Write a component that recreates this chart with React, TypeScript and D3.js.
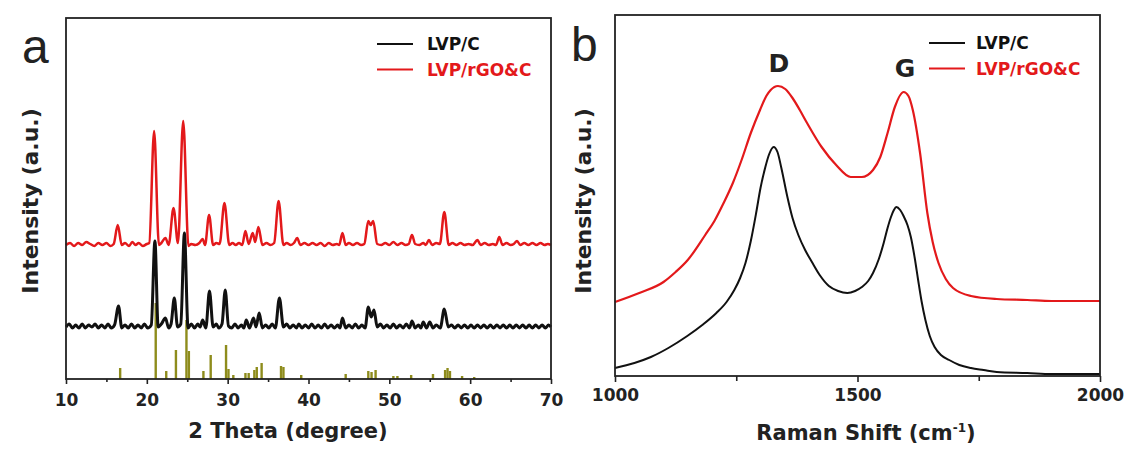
import React, { useEffect, useRef } from 'react';
import * as d3 from 'd3';

// XRD patterns, [2theta, intensity a.u.]
const xrdRed: [number, number][] = [
  [10, 134], [10.5, 136], [11, 133], [11.5, 136], [12, 134], [12.5, 137], [13, 135], [13.5, 133], [14, 136], [14.5, 134], [15, 136], [15.5, 133], [15.9, 135],
  [16.4, 154], [16.9, 134], [17.3, 136], [17.8, 133], [18.2, 137], [18.6, 134], [19, 136], [19.5, 133], [20, 135], [20.3, 136],
  [20.9, 248], [21.5, 134], [21.8, 136], [22.3, 141], [22.7, 134], [23.3, 171], [23.85, 136], [24.5, 258], [25.15, 133], [25.5, 135], [26, 134], [26.5, 136],
  [26.9, 140], [27.2, 134], [27.7, 164], [28.2, 134], [28.6, 136], [29.0, 135], [29.6, 176], [30.2, 134], [30.6, 136], [31, 134], [31.4, 136], [31.8, 134],
  [32.2, 148], [32.6, 135], [33.1, 146], [33.4, 137], [33.8, 152], [34.3, 134], [34.8, 136], [35.3, 134], [35.75, 136], [36.3, 178], [36.9, 134], [37.3, 136],
  [37.8, 134], [38.2, 136], [38.6, 141], [39, 134], [39.5, 136], [40, 134], [40.5, 136], [41, 134], [41.5, 136], [42, 133], [42.5, 136], [43, 134], [43.5, 135],
  [43.8, 134], [44.2, 146], [44.6, 134], [45, 136], [45.5, 134], [46, 136], [46.5, 134], [46.9, 135], [47.4, 158], [47.7, 154], [48.0, 158], [48.5, 135],
  [49, 134], [49.5, 136], [50, 134], [50.5, 137], [51, 134], [51.5, 136], [52, 134], [52.4, 135], [52.8, 144], [53.2, 135], [53.7, 134], [54.2, 136], [54.5, 134],
  [54.9, 139], [55.3, 134], [55.8, 136], [56.25, 135], [56.8, 167], [57.35, 134], [57.8, 136], [58.3, 134], [58.8, 136], [59.3, 134], [59.8, 135], [60.3, 134],
  [60.9, 139], [61.3, 134], [61.8, 136], [62.3, 134], [62.8, 135], [63.2, 134], [63.6, 142], [64.0, 134], [64.5, 136], [65.0, 134], [65.4, 135], [65.8, 138],
  [66.2, 134], [66.7, 136], [67.2, 134], [67.7, 136], [68.2, 134], [68.7, 136], [69.2, 134], [69.6, 135], [70, 134],
];

const xrdBlack: [number, number][] = [
  [10, 52], [10.4, 55], [10.8, 51], [11.2, 54], [11.6, 51], [12, 55], [12.4, 51], [12.8, 54], [13.2, 52], [13.6, 55], [14, 51], [14.4, 54], [14.8, 51],
  [15.2, 55], [15.6, 51], [16.0, 54], [16.5, 73], [16.9, 51], [17.3, 54], [17.7, 51], [18.1, 55], [18.5, 51], [18.9, 54], [19.3, 51], [19.7, 55], [20.1, 51],
  [20.55, 54], [21.0, 138], [21.4, 52], [21.8, 55], [22.3, 61], [22.7, 51], [23.0, 55], [23.4, 81], [23.8, 52], [24.2, 55], [24.65, 146], [25.1, 51], [25.5, 55],
  [25.9, 51], [26.3, 55], [26.6, 52], [26.9, 59], [27.3, 51], [27.75, 88], [28.2, 52], [28.6, 55], [28.9, 51], [29.3, 55], [29.7, 89], [30.1, 53], [30.5, 51],
  [30.9, 55], [31.3, 51], [31.7, 54], [32.0, 51], [32.3, 59], [32.7, 51], [33.2, 61], [33.5, 52], [33.9, 66], [34.3, 51], [34.7, 54], [35.1, 51], [35.5, 55],
  [35.9, 51], [36.4, 81], [36.9, 52], [37.3, 55], [37.7, 51], [38.1, 54], [38.5, 51], [38.8, 55], [39.2, 51], [39.6, 54], [40, 51], [40.4, 55], [40.8, 51],
  [41.2, 54], [41.6, 51], [42, 55], [42.4, 51], [42.8, 54], [43.2, 51], [43.6, 54], [43.9, 51], [44.2, 61], [44.6, 51], [45, 54], [45.4, 51], [45.8, 55],
  [46.2, 51], [46.6, 54], [47.0, 51], [47.4, 72], [47.75, 62], [48.1, 69], [48.5, 52], [48.9, 55], [49.3, 51], [49.7, 54], [50.1, 51], [50.5, 55], [50.9, 51],
  [51.3, 54], [51.7, 51], [52.1, 55], [52.5, 51], [52.8, 58], [53.2, 51], [53.6, 54], [53.9, 51], [54.2, 57], [54.6, 51], [55.0, 57], [55.4, 51], [55.8, 54],
  [56.3, 51], [56.8, 70], [57.3, 52], [57.7, 54], [58.1, 51], [58.5, 54], [58.9, 51], [59.3, 54], [59.7, 51], [60.1, 54], [60.5, 51], [60.9, 54], [61.3, 51],
  [61.7, 54], [62.1, 51], [62.5, 54], [62.9, 51], [63.3, 54], [63.7, 51], [64.1, 54], [64.5, 51], [64.9, 54], [65.3, 51], [65.7, 54], [66.1, 51], [66.5, 54],
  [66.9, 51], [67.3, 54], [67.7, 51], [68.1, 54], [68.5, 51], [68.9, 54], [69.3, 51], [69.7, 54], [70, 52],
];

// standard reference pattern (stick lines)
const refPositions = [16.7, 21.1, 22.4, 23.6, 24.9, 25.2, 27.0, 27.9, 29.8, 30.1, 30.7, 32.2, 32.6, 33.3, 33.6, 34.2, 36.6, 36.9, 39.1, 44.6, 47.4, 47.8, 48.3, 50.5, 51.0, 52.7, 55.4, 56.9, 57.2, 57.5, 59.0, 60.5];
const refHeights = [11, 76, 8, 29, 59, 28, 8, 24, 34, 10, 4, 6, 6, 9, 12, 16, 13, 12, 4, 5, 8, 7, 9, 3, 3, 4, 5, 9, 11, 8, 3, 2];

// Raman spectra, [shift cm-1, intensity a.u.]
const ramanRed: [number, number][] = [
  [1000, 74], [1050, 83], [1100, 94], [1125, 104], [1150, 116], [1186, 141], [1205, 155], [1224, 173], [1243, 193], [1261, 216], [1280, 243], [1299, 266],
  [1312, 280], [1321, 286], [1336, 290], [1351, 287], [1366, 278], [1381, 266], [1396, 253], [1426, 229], [1456, 211], [1486, 199], [1509, 199], [1532, 206],
  [1547, 219], [1562, 243], [1577, 269], [1595, 284], [1605, 280], [1614, 266], [1629, 223], [1644, 163], [1655, 134], [1667, 113], [1682, 97], [1697, 88],
  [1734, 80], [1787, 77], [1850, 76], [1900, 75], [1950, 75], [2000, 75],
];
const ramanBlack: [number, number][] = [
  [1000, 8], [1040, 13], [1074, 19], [1110, 28], [1149, 40], [1180, 51], [1209, 63], [1230, 74], [1246, 86], [1258, 98], [1269, 113], [1280, 135], [1291, 163],
  [1300, 188], [1310, 209], [1318, 222], [1327, 229], [1335, 224], [1343, 208], [1355, 180], [1366, 158], [1378, 141], [1392, 126], [1406, 114], [1422, 101],
  [1441, 90], [1460, 85], [1479, 83], [1495, 85], [1509, 89], [1522, 95], [1532, 103], [1544, 117], [1554, 133], [1562, 148], [1569, 159], [1575, 166],
  [1580, 169], [1588, 166], [1595, 160], [1603, 151], [1610, 139], [1618, 118], [1625, 96], [1632, 75], [1640, 56], [1649, 40], [1659, 29], [1672, 21],
  [1689, 16], [1710, 11], [1734, 8], [1760, 6], [1787, 4], [1850, 3], [1900, 2], [2000, 2],
];

const xrdTicks = [10, 20, 30, 40, 50, 60, 70];
const xrdMinor = [15, 25, 35, 45, 55, 65];
const ramanTicks = [1000, 1500, 2000];
const ramanMinor = [1250, 1750];
const seriesNames = ['LVP/C', 'LVP/rGO&C'];

const RED = '#e3191b';
const BLACK = '#111';
const OLIVE = '#8e8c1c';
const FONT = 'DejaVu Sans, sans-serif';

export default function App() {
  const ref = useRef<SVGSVGElement>(null);

  useEffect(() => {
    const svg = d3.select(ref.current);
    svg.selectAll('*').remove();

    // ---------- panel a : XRD ----------
    const xa = d3.scaleLinear().domain([10, 70]).range([66, 551]);
    const ya = d3.scaleLinear().domain([0, 361]).range([379, 18]);
    const ga = svg.append('g');

    const lineA = d3.line<[number, number]>().x(d => xa(d[0])).y(d => ya(d[1])).curve(d3.curveMonotoneX);

    ga.selectAll('line.ref')
      .data(refPositions)
      .enter()
      .append('line')
      .attr('x1', d => xa(d)).attr('x2', d => xa(d))
      .attr('y1', ya(0))
      .attr('y2', (d, i) => ya(refHeights[i]))
      .attr('stroke', OLIVE)
      .attr('stroke-width', 2.4);

    ga.append('path').attr('d', lineA(xrdBlack)).attr('fill', 'none').attr('stroke', BLACK).attr('stroke-width', 3).attr('stroke-linejoin', 'round');
    ga.append('path').attr('d', lineA(xrdRed)).attr('fill', 'none').attr('stroke', RED).attr('stroke-width', 2.5).attr('stroke-linejoin', 'round');

    ga.append('rect').attr('x', 66).attr('y', 18).attr('width', 485).attr('height', 361)
      .attr('fill', 'none').attr('stroke', '#222').attr('stroke-width', 1.8);

    const axA = ga.append('g').attr('transform', 'translate(0,379)')
      .call(d3.axisBottom(xa).tickValues(xrdTicks).tickSize(5).tickPadding(10).tickFormat(d3.format('d')));
    axA.select('.domain').remove();
    ga.append('g').attr('transform', 'translate(0,379)')
      .call(d3.axisBottom(xa).tickValues(xrdMinor).tickSize(3).tickFormat(() => ''))
      .select('.domain').remove();

    // ---------- panel b : Raman ----------
    const xb = d3.scaleLinear().domain([1000, 2000]).range([615, 1100]);
    const yb = d3.scaleLinear().domain([0, 361]).range([376, 15]);
    const gb = svg.append('g');
    const lineB = d3.line<[number, number]>().x(d => xb(d[0])).y(d => yb(d[1])).curve(d3.curveMonotoneX);

    gb.append('path').attr('d', lineB(ramanBlack)).attr('fill', 'none').attr('stroke', BLACK).attr('stroke-width', 2);
    gb.append('path').attr('d', lineB(ramanRed)).attr('fill', 'none').attr('stroke', RED).attr('stroke-width', 2.2);

    gb.append('rect').attr('x', 615).attr('y', 15).attr('width', 485).attr('height', 361)
      .attr('fill', 'none').attr('stroke', '#222').attr('stroke-width', 1.8);

    const axB = gb.append('g').attr('transform', 'translate(0,376)')
      .call(d3.axisBottom(xb).tickValues(ramanTicks).tickSize(6).tickPadding(7).tickFormat(d3.format('d')));
    axB.select('.domain').remove();
    gb.append('g').attr('transform', 'translate(0,376)')
      .call(d3.axisBottom(xb).tickValues(ramanMinor).tickSize(5).tickFormat(() => ''))
      .select('.domain').remove();

    svg.selectAll('.tick line').attr('stroke', '#222').attr('stroke-width', 1.6);
    svg.selectAll('.tick text').attr('font-family', FONT).attr('font-weight', 'bold').attr('font-size', 17).attr('fill', '#222');

    // ---------- texts ----------
    const txt = (x: number, y: number, s: string, size: number, anchor = 'start', fill = '#222', weight = 'bold', family = FONT) =>
      svg.append('text').attr('x', x).attr('y', y).attr('font-family', family).attr('font-weight', weight)
        .attr('font-size', size).attr('text-anchor', anchor).attr('fill', fill).text(s);

    txt(22, 63, 'a', 48, 'start', '#222', 'normal', 'Liberation Sans, Arial, sans-serif');
    txt(571, 61, 'b', 48, 'start', '#222', 'normal', 'Liberation Sans, Arial, sans-serif');

    txt(288, 438, '2 Theta (degree)', 21, 'middle');
    const rt = txt(866, 440, 'Raman Shift (cm', 21, 'middle');
    rt.append('tspan').attr('font-size', 12).attr('dy', -8).text('-1');
    rt.append('tspan').attr('dy', 8).text(')');

    [38, 591].forEach(x => {
      svg.append('text').attr('transform', `translate(${x},201) rotate(-90)`)
        .attr('font-family', FONT).attr('font-weight', 'bold').attr('font-size', 22)
        .attr('text-anchor', 'middle').attr('fill', '#222').text('Intensity (a.u.)');
    });

    txt(779, 72, 'D', 25, 'middle');
    txt(905, 77, 'G', 25, 'middle');

    // legends
    const legend = (lx: number, tx: number, y0: number) => {
      seriesNames.forEach((name, i) => {
        const col = i === 0 ? BLACK : RED;
        const y = y0 + i * 25.5;
        svg.append('line').attr('x1', lx).attr('x2', lx + 36).attr('y1', y).attr('y2', y).attr('stroke', col).attr('stroke-width', 2);
        txt(tx, y + 6, name, 17, 'start', col);
      });
    };
    legend(377, 427, 44);
    legend(929, 976, 43);
  }, []);

  return (
    <svg ref={ref} width={1132} height={457} style={{ position: 'absolute', left: 0, top: 0, background: '#fff' }} />
  );
}
